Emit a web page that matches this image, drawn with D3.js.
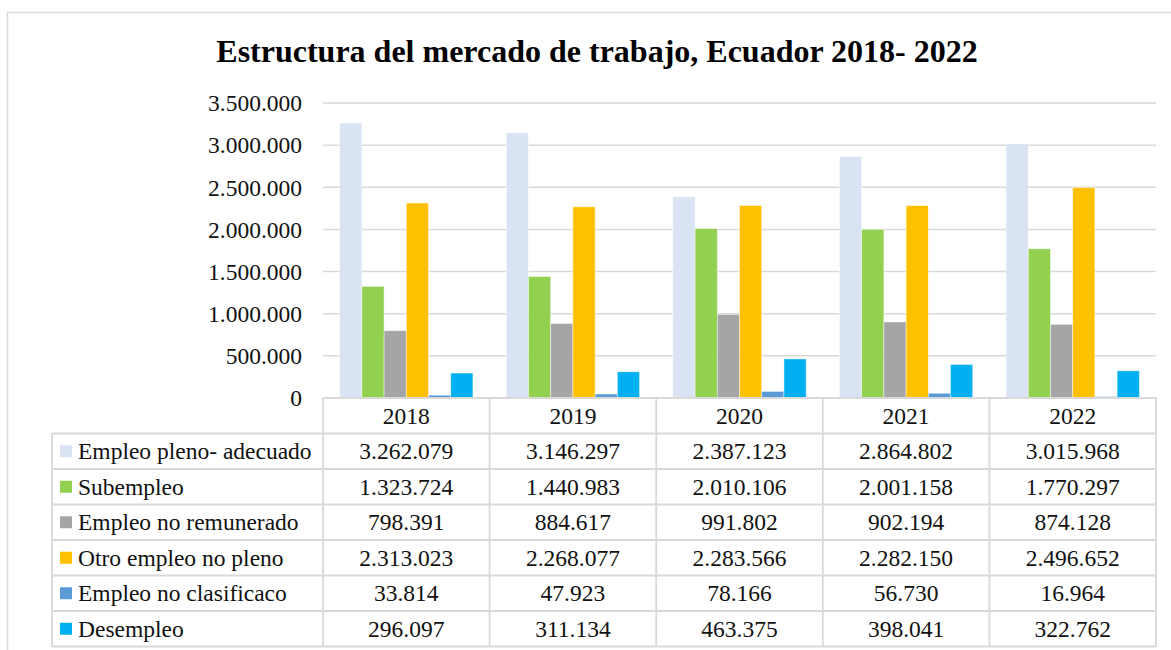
<!DOCTYPE html>
<html>
<head>
<meta charset="utf-8">
<script src="https://cdn.jsdelivr.net/npm/d3@7"></script>
<style>
  body { margin: 0; background: #fff; }
  svg text { font-family: "Times New Roman", "Liberation Serif", Times, serif; }
</style>
</head>
<body>
<div class="chart"></div>
<script>
// data
let years = ["2018", "2019", "2020", "2021", "2022"];
let seriesNames = ["Empleo pleno- adecuado", "Subempleo", "Empleo no remunerado", "Otro empleo no pleno", "Empleo no clasificaco", "Desempleo"];
let seriesColors = ["#dae3f3", "#92d050", "#a5a5a5", "#ffc000", "#5b9bd5", "#00b0f0"];
let plenoAdecuado = [3262079, 3146297, 2387123, 2864802, 3015968];
let subempleo = [1323724, 1440983, 2010106, 2001158, 1770297];
let noRemunerado = [798391, 884617, 991802, 902194, 874128];
let otroNoPleno = [2313023, 2268077, 2283566, 2282150, 2496652];
let noClasificado = [33814, 47923, 78166, 56730, 16964];
let desempleo = [296097, 311134, 463375, 398041, 322762];
let yTicks = [0, 500000, 1000000, 1500000, 2000000, 2500000, 3000000, 3500000];

let values = [plenoAdecuado, subempleo, noRemunerado, otroNoPleno, noClasificado, desempleo];

let width = 1171, height = 650;
// plot area
let plotLeft = 323, plotRight = 1156, plotTop = 103, plotBottom = 398;
let rowH = 35.5;
let tableLeft = 52;
let fontSize = "23.5px";

// es-style thousands separator
let fmt = d3.formatLocale({decimal: ",", thousands: ".", grouping: [3], currency: ["", ""]}).format(",d");

let svg = d3.select(".chart")
  .append("svg")
    .attr("width", width)
    .attr("height", height);

// outer frame (only top + left visible)
svg.append("path")
  .attr("d", `M7.5,${height} V12.5 H${width}`)
  .attr("fill", "none")
  .attr("stroke", "#d9d9d9")
  .attr("stroke-width", 1.5);

svg.append("text")
  .attr("x", 597)
  .attr("y", 62)
  .attr("text-anchor", "middle")
  .style("font-size", "32px")
  .style("font-weight", "bold")
  .text("Estructura del mercado de trabajo, Ecuador 2018- 2022");

let x = d3.scaleBand()
  .domain(years)
  .range([plotLeft, plotRight]);

// excel gap width 150%
let x1 = d3.scaleBand()
  .domain(d3.range(seriesNames.length))
  .range([0, x.bandwidth()])
  .paddingOuter(0.75)
  .paddingInner(0);

let y = d3.scaleLinear()
  .domain([0, 3500000])
  .range([plotBottom, plotTop]);

// gridlines
svg.append("g")
  .selectAll("line")
  .data(yTicks.slice(1))
  .enter()
  .append("line")
    .attr("x1", plotLeft)
    .attr("x2", plotRight)
    .attr("y1", d => y(d))
    .attr("y2", d => y(d))
    .attr("stroke", "#d9d9d9")
    .attr("stroke-width", 1.5);

// y axis labels
svg.append("g")
  .selectAll("text")
  .data(yTicks)
  .enter()
  .append("text")
    .attr("x", 302)
    .attr("y", d => y(d))
    .attr("dy", "0.35em")
    .attr("text-anchor", "end")
    .style("font-size", fontSize)
    .style("fill", "#111")
    .text(d => fmt(d));

// bars
seriesNames.forEach(function(name, s) {
  svg.append("g")
    .selectAll("rect")
    .data(years)
    .enter()
    .append("rect")
      .attr("x", (d) => x(d) + x1(s))
      .attr("y", (d, i) => y(values[s][i]))
      .attr("width", x1.bandwidth())
      .attr("height", (d, i) => y(0) - y(values[s][i]))
      .style("fill", seriesColors[s])
      .style("stroke", "rgba(255,255,255,0.6)")
      .style("stroke-width", 0.75);
});

// data table
let grid = svg.append("g")
  .attr("fill", "none")
  .attr("stroke", "#d9d9d9")
  .attr("stroke-width", 1.8);

let tableBottom = plotBottom + rowH * (seriesNames.length + 1);
// horizontal rules
grid.append("line")
  .attr("x1", plotLeft).attr("x2", plotRight)
  .attr("y1", plotBottom).attr("y2", plotBottom);
d3.range(1, seriesNames.length + 2).forEach(function(r) {
  grid.append("line")
    .attr("x1", tableLeft).attr("x2", plotRight)
    .attr("y1", plotBottom + r * rowH).attr("y2", plotBottom + r * rowH);
});
// vertical rules
grid.append("line")
  .attr("x1", tableLeft).attr("x2", tableLeft)
  .attr("y1", plotBottom + rowH).attr("y2", tableBottom);
years.forEach(function(yr) {
  grid.append("line")
    .attr("x1", x(yr)).attr("x2", x(yr))
    .attr("y1", plotBottom).attr("y2", tableBottom);
});
grid.append("line")
  .attr("x1", plotRight).attr("x2", plotRight)
  .attr("y1", plotBottom).attr("y2", tableBottom);

// header
svg.append("g")
  .selectAll("text")
  .data(years)
  .enter()
  .append("text")
    .attr("x", d => x(d) + x.bandwidth() / 2)
    .attr("y", plotBottom + rowH / 2)
    .attr("dy", "0.35em")
    .attr("text-anchor", "middle")
    .style("font-size", fontSize)
    .style("fill", "#111")
    .text(d => d);

// legend rows + values
seriesNames.forEach(function(name, s) {
  let cy = plotBottom + rowH * (s + 1.5);
  svg.append("rect")
    .attr("x", 60)
    .attr("y", cy - 6)
    .attr("width", 12)
    .attr("height", 12)
    .style("fill", seriesColors[s]);
  svg.append("text")
    .attr("x", 78)
    .attr("y", cy)
    .attr("dy", "0.35em")
    .style("font-size", fontSize)
    .style("fill", "#111")
    .text(name);
  svg.append("g")
    .selectAll("text")
    .data(years)
    .enter()
    .append("text")
      .attr("x", d => x(d) + x.bandwidth() / 2)
      .attr("y", cy)
      .attr("dy", "0.35em")
      .attr("text-anchor", "middle")
      .style("font-size", fontSize)
      .style("fill", "#111")
      .text((d, i) => fmt(values[s][i]));
});
</script>
</body>
</html>
